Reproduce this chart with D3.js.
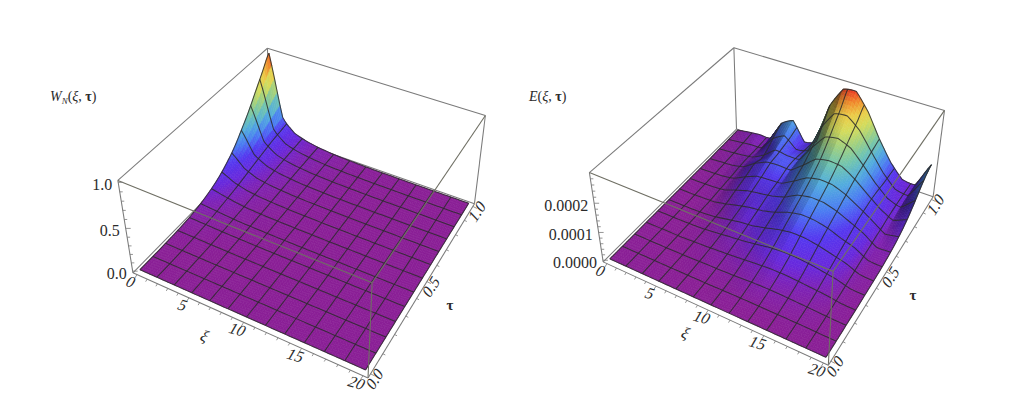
<!DOCTYPE html>
<html><head><meta charset="utf-8">
<script src="https://cdn.jsdelivr.net/npm/d3@7/dist/d3.min.js"></script>
<style>html,body{margin:0;background:#fff}svg{display:block}text{font-family:"Liberation Serif",serif;fill:#2b2b2b}</style>
</head><body><svg id="c" width="1013" height="405"></svg>
<script>
const xiGrid=[0,1.25,2.5,3.75,5,6.25,7.5,8.75,10,11.25,12.5,13.75,15,16.25,17.5,18.75,20];
const tauGrid=[0,.0625,.125,.1875,.25,.3125,.375,.4375,.5,.5625,.625,.6875,.75,.8125,.875,.9375,1];
const wValues=[
[0,0,0,0,0,0,0,0,0,0,0,0,0,0,0,0,0],
[0,0,0,0,0,0,0,0,0,0,0,0,0,0,0,0,0],
[.001,0,0,0,0,0,0,0,0,0,0,0,0,0,0,0,0],
[.003,.002,.001,0,0,0,0,0,0,0,0,0,0,0,0,0,0],
[.007,.006,.004,.002,.001,0,0,0,0,0,0,0,0,0,0,0,0],
[.015,.012,.008,.005,.003,.001,0,0,0,0,0,0,0,0,0,0,0],
[.03,.022,.014,.008,.005,.003,.001,0,0,0,0,0,0,0,0,0,0],
[.055,.04,.025,.013,.008,.005,.003,.001,0,0,0,0,0,0,0,0,0],
[.09,.06,.035,.018,.011,.007,.004,.002,.001,0,0,0,0,0,0,0,0],
[.14,.08,.045,.025,.015,.009,.005,.003,.002,.001,0,0,0,0,0,0,0],
[.21,.11,.055,.032,.02,.012,.007,.004,.002,.001,0,0,0,0,0,0,0],
[.30,.14,.07,.04,.025,.014,.008,.005,.003,.001,0,0,0,0,0,0,0],
[.42,.17,.085,.048,.03,.017,.01,.006,.003,.002,.001,0,0,0,0,0,0],
[.55,.2,.095,.054,.034,.02,.012,.007,.004,.002,.001,0,0,0,0,0,0],
[.70,.23,.105,.06,.036,.022,.013,.008,.004,.002,.001,0,0,0,0,0,0],
[.85,.25,.11,.065,.04,.025,.015,.008,.005,.003,.002,.001,0,0,0,0,0],
[1,.27,.12,.07,.042,.026,.015,.01,.005,.003,.002,.001,0,0,0,0,0]];
// E values in units of 1e-4
const eValues=[
[0,0,0,0,0,0,0,0,0,0,0,0,0,0,0,0,0],
[0,0,0,0,0,0,0,0,.01,.01,.01,.01,.01,.01,.01,0,0],
[0,0,0,0,0,.01,.02,.02,.03,.05,.06,.06,.05,.04,.03,.01,0],
[0,0,0,0,.01,.02,.04,.05,.07,.1,.12,.12,.1,.08,.05,.02,.01],
[0,0,0,0,.02,.04,.07,.1,.14,.18,.21,.21,.18,.14,.1,.03,.01],
[0,0,0,.01,.03,.07,.12,.16,.22,.29,.33,.33,.29,.23,.16,.04,.02],
[0,0,0,.01,.05,.11,.18,.23,.32,.42,.48,.48,.42,.32,.22,.06,.03],
[0,0,0,.02,.07,.17,.26,.31,.42,.56,.65,.64,.55,.42,.29,.07,.04],
[0,0,.01,.03,.12,.24,.34,.4,.52,.7,.8,.78,.68,.5,.35,.09,.06],
[0,.01,.02,.06,.2,.34,.42,.5,.62,.85,.95,.93,.8,.6,.4,.1,.1],
[0,.01,.03,.09,.28,.44,.5,.56,.74,1,1.1,1.08,.93,.7,.45,.12,.16],
[0,.02,.04,.12,.36,.55,.58,.6,.88,1.18,1.29,1.25,1.05,.76,.45,.15,.26],
[0,.03,.06,.16,.45,.66,.7,.68,1.02,1.4,1.5,1.45,1.17,.8,.45,.2,.4],
[.01,.04,.08,.16,.36,.7,.7,.7,1.22,1.7,1.8,1.65,1.25,.8,.42,.24,.6],
[.01,.05,.1,.14,.5,.82,.6,.68,1.45,2.05,2.13,1.85,1.32,.78,.36,.27,.84],
[.02,.07,.12,.14,.72,.95,.52,.64,1.75,2.4,2.46,2.05,1.4,.78,.33,.27,1.05],
[.03,.1,.15,.15,.88,1.12,.46,.62,2.1,2.8,2.85,2.28,1.47,.78,.3,.27,1.17]];
const xiTicks=[0,5,10,15,20], tauTicks=[0,.5,1];
const wTicks=[0,.5,1], eTicks=[0,1,2];
const meshCells=12;
const rainbowStops=[0,.05,.1,.2,.3,.4,.5,.6,.7,.8,.9,1];
const rainbowColors=["#8a1f96","#7c22b8","#6828dc","#5438f0","#4a7cf2","#52acde","#70c4b0","#a0d080","#d4dc5c","#eccc48","#f08a2c","#ec2c20"];
const wCorners=[[0,0,0,133,273],[1,0,0,367,378],[1,1,0,475,203],[0,1,0,271,133],[0,0,1,118,180],[1,0,1,373,283],[1,1,1,485,116],[0,1,1,267,48]];
const eCorners=[[0,0,0,603,262],[1,0,0,828,366],[1,1,0,933,195],[0,1,0,737,130],[0,0,1,590,172],[1,0,1,833,271],[1,1,1,945,112],[0,1,1,733,47]];

function fitCamera(c){
  const A=[],b=[];
  c.forEach(([x,y,z,u,v])=>{
    A.push([x,y,z,1,0,0,0,0,-u*x,-u*y,-u*z]);b.push(u);
    A.push([0,0,0,0,x,y,z,1,-v*x,-v*y,-v*z]);b.push(v);});
  const n=11,M=d3.range(n).map(i=>d3.range(n+1).map(j=>{
    let s=0;A.forEach((r,k)=>{s+=r[i]*(j<n?r[j]:b[k]);});return s;}));
  for(let i=0;i<n;i++){let p=i;for(let r=i+1;r<n;r++)if(Math.abs(M[r][i])>Math.abs(M[p][i]))p=r;
    [M[i],M[p]]=[M[p],M[i]];
    for(let r=0;r<n;r++)if(r!==i){const f=M[r][i]/M[i][i];for(let k=i;k<=n;k++)M[r][k]-=f*M[i][k];}}
  const s=M.map((r,i)=>r[n]/r[i]);
  return (x,y,z)=>{const w=s[8]*x+s[9]*y+s[10]*z+1;
    return [(s[0]*x+s[1]*y+s[2]*z+s[3])/w,(s[4]*x+s[5]*y+s[6]*z+s[7])/w];};
}
const cr=(p0,p1,p2,p3,t)=>.5*(2*p1+(p2-p0)*t+(2*p0-5*p1+4*p2-p3)*t*t+(3*p1-p0-3*p2+p3)*t*t*t);
const XI_SMOOTH=.3;
function sampler(T){const N=T.length-1,cl=i=>Math.max(0,Math.min(N,i));
  return (u,v)=>{
    const i=Math.min(N-1,Math.floor(u)),j=Math.min(N-1,Math.floor(v)),s=u-i,t=v-j;
    const rows=[-1,0,1,2].map(d=>{const r=T[cl(j+d)];
      const lin=r[i]+(r[i+1]-r[i])*s;
      return lin+(cr(r[cl(i-1)],r[i],r[i+1],r[cl(i+2)],s)-lin)*XI_SMOOTH;});
    return Math.max(0,cr(rows[0],rows[1],rows[2],rows[3],t));};}

const color=d3.scaleLinear().domain(rainbowStops).range(rainbowColors).interpolate(d3.interpolateRgb).clamp(true);
const svg=d3.select("#c");
const SUB=5;
function panel(o){
  const g=svg.append("g");
  const sx=d3.scaleLinear().domain([-.4,20.4]).range([0,1]);
  const st=d3.scaleLinear().domain([-.02,1.02]).range([0,1]);
  const sz=d3.scaleLinear().domain(o.zDomain).range([0,1]);
  const cam=fitCamera(o.corners);
  const P=(xi,tau,z)=>cam(sx(xi),st(tau),sz(z));
  const N=xiGrid.length-1;
  const gx=d3.scaleLinear().domain([0,N]).range([0,20]);
  const gt=d3.scaleLinear().domain([0,N]).range([0,1]);
  const f=sampler(o.values);
  const zMax=o.colorMax;
  const [xa,xb]=[-.4,20.4],[ta,tb]=[-.02,1.02];
  const line=(a,b,w,c)=>g.append("line").attr("x1",a[0]).attr("y1",a[1]).attr("x2",b[0]).attr("y2",b[1]).attr("stroke",c||"#7a7a7a").attr("stroke-width",w||1.05);
  const z0=o.zDomain[0],z1=o.zDomain[1];
  line(P(xa,ta,z0),P(xa,tb,z0));line(P(xa,tb,z0),P(xb,tb,z0));
  line(P(xa,tb,z0),P(xa,tb,z1));
  line(P(xa,ta,z1),P(xa,tb,z1));line(P(xa,tb,z1),P(xb,tb,z1));
  line(P(xa,ta,z0),P(xa,ta,z1));line(P(xb,tb,z0),P(xb,tb,z1));
  const quads=[];
  const m=N*SUB;
  const slopeScale=.4*N;
  for(let j=m-1;j>=0;j--)for(let i=0;i<m;i++){
    const u=i/SUB,v=j/SUB,d=1/SUB;
    const zz=[f(u,v),f(u+d,v),f(u+d,v+d),f(u,v+d)];
    const pts=[[u,v],[u+d,v],[u+d,v+d],[u,v+d]].map((q,k)=>P(gx(q[0]),gt(q[1]),zz[k]));
    const cz=(zz[0]+zz[1]+zz[2]+zz[3])/4;
    const range=o.zDomain[1]-o.zDomain[0];
    const dzx=((zz[1]+zz[2]-zz[0]-zz[3])/2/d)/range*slopeScale;
    const rise=Math.max(0,dzx);
    const sh=Math.max(.52,1-.75*rise/Math.hypot(rise,1));
    const c=d3.rgb(color(cz/zMax));
    const col=d3.rgb(c.r*sh,c.g*sh,c.b*sh).formatHex();
    quads.push({d:"M"+pts.map(p=>p[0].toFixed(2)+","+p[1].toFixed(2)).join("L")+"Z",col});
  }
  g.append("g").selectAll("path").data(quads).join("path").attr("d",q=>q.d).attr("fill",q=>q.col).attr("stroke",q=>q.col).attr("stroke-width",.6);
  const lineGen=d3.line();
  const mesh=g.append("g").attr("fill","none").attr("stroke","#2c2c2c").attr("stroke-opacity",.85).attr("stroke-width",1.05);
  const gm=N/meshCells;
  d3.range(meshCells+1).forEach(k=>{
    const q=k*gm;
    mesh.append("path").attr("d",lineGen(d3.range(m+1).map(s=>P(gx(s/SUB),gt(q),f(s/SUB,q)))));
    mesh.append("path").attr("d",lineGen(d3.range(m+1).map(s=>P(gx(q),gt(s/SUB),f(q,s/SUB)))));
  });
  line(P(xa,ta,z1),P(xb,ta,z1),1.1,"#6f6f64");line(P(xb,ta,z1),P(xb,tb,z1),1.1,"#6f6f64");line(P(xb,ta,z1),P(xb,ta,z0),1.1,"#6f6f64");
  line(P(xa,ta,z0),P(xb,ta,z0));line(P(xb,ta,z0),P(xb,tb,z0));
  const tick=(a,dx,dy,w)=>line(a,[a[0]+dx,a[1]+dy],w||.8);
  d3.range(0,20.01,1).forEach(v=>{const maj=v%5===0;tick(P(v,ta,z0),maj?-2.5:-1.5,maj?4:2.5);});
  d3.range(0,1.001,.1).forEach(v=>{const maj=Math.abs(v*10%5)<.01;tick(P(xb,v,z0),maj?4:2.5,maj?2:1.2);});
  o.zMinor.forEach(v=>{tick(P(xa,ta,v),3,0);});
  o.zTicks.forEach(v=>{tick(P(xa,ta,v),5,0);});
  const lab=(pos,txt,tf,size)=>g.append("text").attr("transform",`translate(${pos[0]},${pos[1]}) ${tf}`).attr("text-anchor","middle").attr("font-size",size).text(txt);
  xiTicks.forEach(v=>{const p=P(v,ta,z0);lab([p[0]-9,p[1]+12],d3.format("d")(v),"rotate(16) skewX(-14)",16);});
  tauTicks.forEach(v=>{const p=P(xb,v,z0);lab([p[0]+o.tauOff[0],p[1]+o.tauOff[1]],d3.format(".1f")(v),"rotate(-58) skewX(-14)",16);});
  o.zTicks.forEach(v=>{const p=P(xa,ta,v);g.append("text").attr("x",p[0]-6).attr("y",p[1]+8).attr("text-anchor","end").attr("font-size",16).text(o.zFmt(v));});
  lab(o.xiLabel,"ξ","rotate(16) skewX(-14)",16);
  lab(o.tauLabel,"τ","",15).attr("font-weight","bold");
  const t=g.append("text").attr("x",o.title[0]).attr("y",o.title[1]).attr("font-size",14);
  o.titleParts.forEach(([s,it,dy,fs,w])=>{const q=t.append("tspan").text(s);if(it)q.attr("font-style","italic");if(dy)q.attr("dy",dy);if(fs)q.attr("font-size",fs);if(w)q.attr("font-weight",w);});
}
const tailParts=[["(",0],["ξ",1],[", ",0],["τ",0,0,0,"bold"],[")",0]];
panel({values:wValues,corners:wCorners,zDomain:[-.02,1.02],colorMax:1,zTicks:wTicks,zMinor:[.1,.2,.3,.4,.6,.7,.8,.9],zFmt:d3.format(".1f"),
  tauOff:[8,9],xiLabel:[202,341],tauLabel:[450,310],title:[50,101],
  titleParts:[["W",1],["N",1,3,9],["(",0,-3],["ξ",1],[", ",0],["τ",0,0,0,"bold"],[")",0]]});
panel({values:eValues,corners:eCorners,zDomain:[-.06,3.0],colorMax:2.9,zTicks:eTicks,zMinor:[.2,.4,.6,.8,1.2,1.4,1.6,1.8,2.2,2.4,2.6,2.8],zFmt:v=>d3.format(".4f")(v*1e-4),
  tauOff:[8,9],xiLabel:[683,338],tauLabel:[913,300],title:[529,101],
  titleParts:[["E",1],...tailParts]});
</script></body></html>
